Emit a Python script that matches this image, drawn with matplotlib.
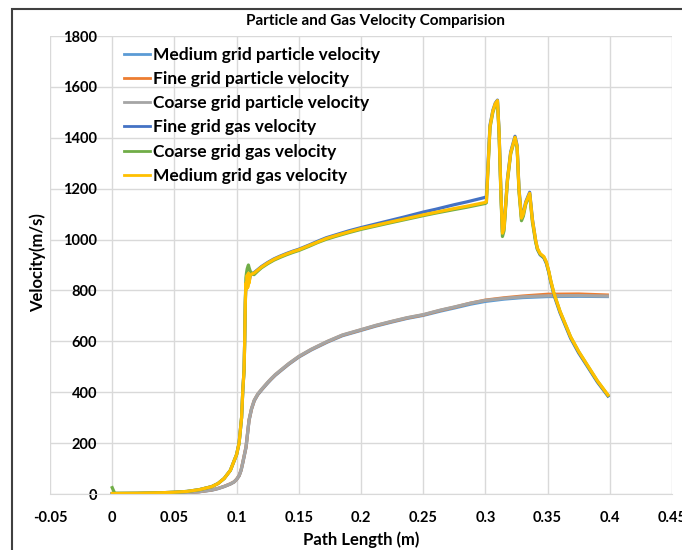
import matplotlib
matplotlib.use("Agg")
from matplotlib import pyplot as plt
from matplotlib.patches import Rectangle

plt.rcParams['font.family'] = ['Lato', 'DejaVu Sans']
plt.rcParams['font.weight'] = 'bold'

# particle velocity (all three grids share the path positions)
particle_x = [0, 0.02, 0.04, 0.06, 0.07, 0.08, 0.085, 0.09, 0.095, 0.098, 0.1, 0.102,
              0.1036, 0.105, 0.1076, 0.11, 0.112, 0.1142, 0.117, 0.12, 0.1223, 0.125,
              0.1277, 0.131, 0.1357, 0.142, 0.15, 0.16, 0.173, 0.185, 0.2, 0.212, 0.225,
              0.237, 0.25, 0.264, 0.275, 0.288, 0.3, 0.315, 0.33, 0.35, 0.375, 0.398]
medium_particle = [0, 1, 2, 5, 9, 15, 21, 29, 39, 47, 57, 71, 92, 122, 183, 288, 333, 366,
                   390, 408, 421, 436, 450, 466, 485, 510, 538, 566, 597, 622, 643, 660,
                   676, 690, 702, 719, 731, 746, 757, 766, 772, 776, 777, 776]
fine_particle = [0, 1, 2, 5, 9, 16, 22, 30, 40, 48, 58, 72, 94, 125, 186, 291, 335, 368,
                 392, 410, 423, 438, 452, 468, 487, 512, 540, 568, 599, 624, 645, 662,
                 678, 692, 704, 722, 734, 750, 762, 771, 778, 785, 786, 782]
coarse_particle = [0, 1, 2, 5, 9, 16, 22, 30, 40, 48, 58, 72, 94, 125, 186, 291, 336, 369,
                   393, 411, 424, 439, 453, 469, 488, 513, 541, 569, 600, 625, 646, 663,
                   679, 693, 705, 723, 735, 750, 761, 769, 775, 779, 780, 778]

# gas velocity
gas_x = [0, 0.002, 0.02, 0.04, 0.05, 0.06, 0.07, 0.08, 0.085, 0.09, 0.095, 0.1, 0.102,
         0.104, 0.105, 0.106, 0.1065, 0.107, 0.1075, 0.108, 0.1085, 0.109, 0.1095, 0.11,
         0.111, 0.1125, 0.114, 0.117, 0.12, 0.125, 0.13, 0.135, 0.14, 0.145, 0.15, 0.158,
         0.165, 0.172, 0.18, 0.19, 0.2, 0.21, 0.22, 0.235, 0.25, 0.26, 0.275, 0.285, 0.3,
         0.3008, 0.3037, 0.306, 0.308, 0.3097, 0.311, 0.3125, 0.3137, 0.315, 0.3177,
         0.3203, 0.3238, 0.3255, 0.327, 0.329, 0.3305, 0.3324, 0.3356, 0.3378, 0.3404,
         0.3418, 0.344, 0.347, 0.349, 0.351, 0.3525, 0.3551, 0.36, 0.3685, 0.375, 0.3819,
         0.39, 0.3985]
medium_gas = [2, 2, 3, 5, 7, 10, 17, 29, 41, 61, 93, 155, 200, 300, 409, 487, 600, 750,
              830, 805, 860, 812, 868, 828, 860, 865, 868, 880, 892, 908, 922, 933, 943,
              952, 960, 976, 990, 1004, 1016, 1030, 1043, 1054, 1065, 1081, 1097, 1107,
              1122, 1131, 1146, 1149, 1444, 1505, 1535, 1546, 1420, 1180, 1025, 1045, 1234,
              1340, 1402, 1365, 1195, 1084, 1100, 1144, 1182, 1077, 998, 966, 945, 933, 912,
              875, 840, 789, 718, 618, 560, 507, 445, 389]
fine_gas = [2, 2, 3, 5, 7, 10, 17, 29, 41, 61, 93, 155, 200, 300, 409, 487, 600, 750,
            830, 812, 858, 820, 862, 835, 858, 866, 870, 882, 894, 910, 924, 935, 945,
            954, 962, 978, 993, 1007, 1019, 1034, 1047, 1059, 1071, 1089, 1108, 1119,
            1137, 1148, 1166, 1169, 1450, 1508, 1537, 1548, 1425, 1185, 1030, 1050, 1238,
            1344, 1406, 1370, 1200, 1090, 1105, 1148, 1186, 1080, 996, 962, 940, 928, 906,
            870, 834, 782, 712, 612, 554, 502, 440, 385]
coarse_gas = [25, 3, 3, 5, 7, 10, 17, 29, 41, 61, 93, 155, 200, 300, 409, 487, 600, 760,
              850, 870, 885, 893, 900, 890, 875, 866, 862, 876, 889, 905, 919, 930, 940,
              949, 957, 973, 988, 1001, 1013, 1027, 1040, 1051, 1062, 1078, 1094, 1104,
              1118, 1127, 1142, 1145, 1440, 1500, 1530, 1542, 1412, 1170, 1012, 1035, 1228,
              1336, 1398, 1360, 1188, 1074, 1092, 1138, 1178, 1068, 990, 962, 942, 930, 910,
              873, 838, 788, 717, 617, 559, 506, 444, 388]

x_ticks = [-0.05, 0, 0.05, 0.1, 0.15, 0.2, 0.25, 0.3, 0.35, 0.4, 0.45]
x_tick_labels = ['-0.05', '0', '0.05', '0.1', '0.15', '0.2', '0.25', '0.3', '0.35', '0.4', '0.45']
y_ticks = [0, 200, 400, 600, 800, 1000, 1200, 1400, 1600, 1800]

fig = plt.figure(figsize=(6.82, 5.5), dpi=100)
ax = fig.add_axes([50 / 682, 1 - 494 / 550, 622 / 682, 458 / 550])

lw = 2.3
ax.plot(particle_x, medium_particle, c='#5B9BD5', lw=lw, label='Medium grid particle velocity')
ax.plot(particle_x, fine_particle, c='#ED7D31', lw=lw, label='Fine grid particle velocity')
ax.plot(particle_x, coarse_particle, c='#A5A5A5', lw=lw, label='Coarse grid particle velocity')
ax.plot(gas_x, fine_gas, c='#4472C4', lw=lw, label='Fine grid gas velocity')
ax.plot(gas_x, coarse_gas, c='#70AD47', lw=lw, label='Coarse grid gas velocity')
ax.plot(gas_x, medium_gas, c='#FFC000', lw=lw, label='Medium grid gas velocity')

ax.set_xlim(-0.05, 0.45)
ax.set_ylim(0, 1800)
ax.set_xticks(x_ticks)
ax.set_xticklabels(x_tick_labels)
ax.set_yticks(y_ticks)
ax.grid(True, color='#D9D9D9', lw=1)
ax.set_axisbelow(True)

# value axis crosses at x = 0, like the spreadsheet chart
ax.spines['left'].set_position(('data', 0))
ax.spines['left'].set_visible(False)
ax.spines['right'].set_visible(False)
ax.spines['top'].set_visible(False)
ax.spines['bottom'].set_color('#D9D9D9')
ax.tick_params(axis='both', length=0, labelsize=10.5, colors='black')
ax.tick_params(axis='y', pad=11)
ax.tick_params(axis='x', pad=12)
for lab in ax.get_xticklabels() + ax.get_yticklabels():
    lab.set_fontweight('bold')

ax.set_xlabel('Path Length (m)', fontsize=12, fontweight='bold', labelpad=5)
fig.text(38 / 682, 1 - 263 / 550, 'Velocity(m/s)', rotation=90, fontsize=12,
         fontweight='bold', ha='center', va='center')
fig.text(376 / 682, 1 - 21 / 550, 'Particle and Gas Velocity Comparision',
         fontsize=11, fontweight='bold', ha='center', va='center')

leg = ax.legend(loc='upper left', bbox_to_anchor=(124 / 682, 1 - 47 / 550),
                bbox_transform=fig.transFigure, frameon=False, fontsize=12.5,
                handlelength=1.5, handletextpad=0.17, labelspacing=0.47,
                borderpad=0, borderaxespad=0)
for line in leg.get_lines():
    line.set_linewidth(2)

fig.patches.append(Rectangle((12 / 682, -0.05), 1.2, 1 - 9 / 550 + 0.05,
                             transform=fig.transFigure, fill=False,
                             edgecolor='#404040', lw=1.5))

fig.savefig('out.png', dpi=100)
